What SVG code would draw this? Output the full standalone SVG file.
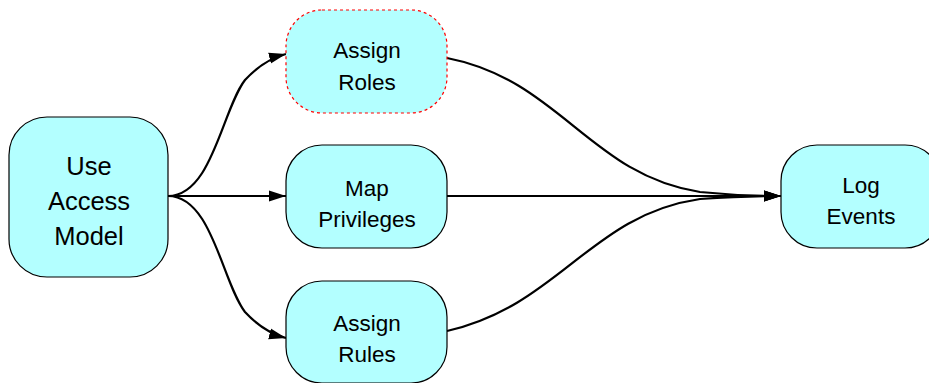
<svg xmlns="http://www.w3.org/2000/svg" width="929" height="383" viewBox="0 0 929 383">
<style>
.node{fill:#b3ffff;stroke:#000;stroke-width:1.2}
.dash{stroke:#ff0000;stroke-dasharray:3,3}
.t{font-family:"Liberation Sans",Arial,sans-serif;font-size:22.5px;fill:#000;text-anchor:middle}
.tb{font-size:25.5px}
.e{fill:none;stroke:#000;stroke-width:2.2}
</style>
<defs>
<marker id="ah" markerWidth="18" markerHeight="14" refX="17" refY="7" orient="auto" markerUnits="userSpaceOnUse">
<path d="M0,1.5 L17,7 L0,12.5 Z" fill="#000"/>
</marker>
</defs>
<g id="edges">
<path class="e" marker-end="url(#ah)" d="M168,196 C212,196 222,110 245,80 C258,66 270,58 286,54"/>
<path class="e" marker-end="url(#ah)" d="M168,196 L286,196"/>
<path class="e" marker-end="url(#ah)" d="M168,196 C212,196 222,282 245,312 C258,326 270,334 286,338"/>
<path class="e" marker-end="url(#ah)" d="M447,58 C560,80 590,175 700,192 C730,195 760,196 781,196"/>
<path class="e" marker-end="url(#ah)" d="M447,196 L781,196"/>
<path class="e" marker-end="url(#ah)" d="M447,331 C560,305 590,215 700,199 C730,197 760,196 781,196"/>
</g>
<g id="use-access-model">
<rect class="node" x="9" y="117" width="159" height="160" rx="38"/>
<text class="t tb" x="89" y="175">Use</text>
<text class="t tb" x="89" y="210">Access</text>
<text class="t tb" x="89" y="245">Model</text>
</g>
<g id="assign-roles">
<rect class="node dash" x="286" y="10" width="161" height="103" rx="36"/>
<text class="t" x="367" y="58">Assign</text>
<text class="t" x="367" y="90">Roles</text>
</g>
<g id="map-privileges">
<rect class="node" x="286" y="145" width="161" height="103" rx="36"/>
<text class="t" x="367" y="196">Map</text>
<text class="t" x="367" y="227">Privileges</text>
</g>
<g id="assign-rules">
<rect class="node" x="286" y="281" width="161" height="102" rx="36"/>
<text class="t" x="367" y="331">Assign</text>
<text class="t" x="367" y="362">Rules</text>
</g>
<g id="log-events">
<rect class="node" x="781" y="145" width="160" height="103" rx="36"/>
<text class="t" x="861" y="193">Log</text>
<text class="t" x="861" y="224">Events</text>
</g>
</svg>
